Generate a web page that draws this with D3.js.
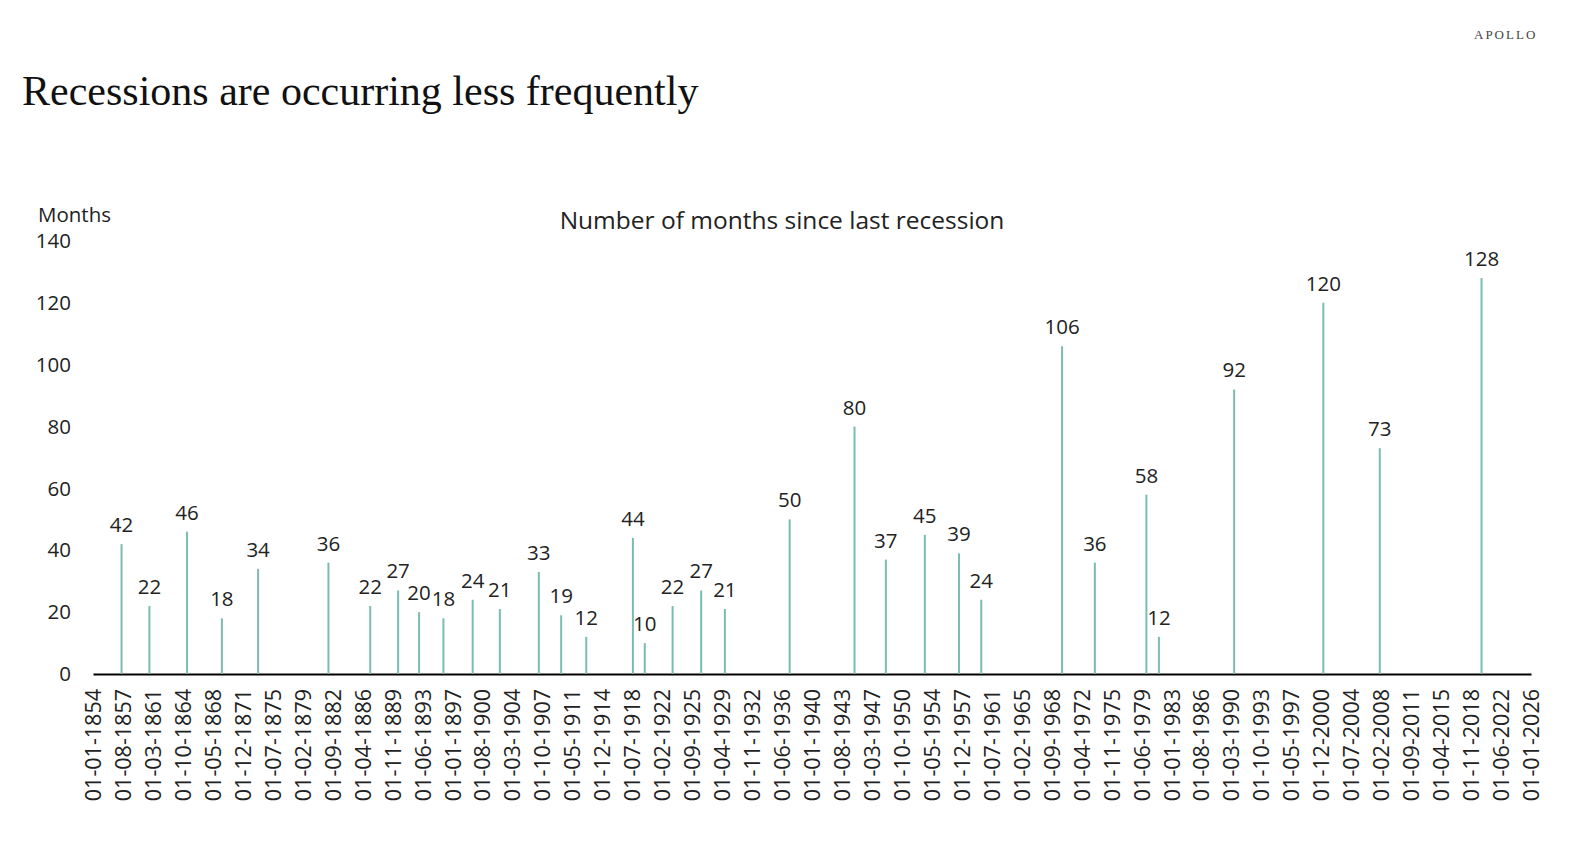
<!DOCTYPE html>
<html lang="en">
<head>
<meta charset="UTF-8">
<title>Recessions are occurring less frequently</title>
<script src="https://d3js.org/d3.v7.min.js"></script>
<style>
  html, body { margin: 0; padding: 0; background: #fff; overflow: hidden; }
  svg { display: block; }
  text { font-family: "Open Sans", "Noto Sans", sans-serif; fill: #222; }
  .serif { font-family: "Liberation Serif", "DejaVu Serif", serif; }
</style>
</head>
<body>
<div id="chart"></div>
<script>
// business cycle peaks and months of expansion leading into them
const peakDates = ["1857-06", "1860-10", "1865-04", "1869-06", "1873-10", "1882-03", "1887-03",
  "1890-07", "1893-01", "1895-12", "1899-06", "1902-09", "1907-05", "1910-01", "1913-01",
  "1918-08", "1920-01", "1923-05", "1926-10", "1929-08", "1937-05", "1945-02", "1948-11",
  "1953-07", "1957-08", "1960-04", "1969-12", "1973-11", "1980-01", "1981-07", "1990-07",
  "2001-03", "2007-12", "2020-02"];
const months = [42, 22, 46, 18, 34, 36, 22, 27, 20, 18, 24, 21, 33, 19, 12, 44, 10, 22, 27, 21,
  50, 80, 37, 45, 39, 24, 106, 36, 58, 12, 92, 120, 73, 128];
const yTicks = [0, 20, 40, 60, 80, 100, 120, 140];
const xStart = "1854-01", xEnd = "2026-01", tickStepMonths = 43;

const W = 1574, H = 864;
const margin = { left: 93, right: 43, top: 241, bottom: 190 };

const parse = d3.timeParse("%Y-%m");
const data = peakDates.map((d, i) => ({ date: parse(d), value: months[i] }));

const svg = d3.select("#chart").append("svg")
  .attr("width", W).attr("height", H);

const x = d3.scaleTime()
  .domain([parse(xStart), parse(xEnd)])
  .range([margin.left, W - margin.right]);
const y = d3.scaleLinear()
  .domain([0, 140])
  .range([H - margin.bottom, margin.top]);

// titles
svg.append("text").attr("class", "serif")
  .attr("x", 22).attr("y", 105)
  .style("font-size", "42px").style("fill", "#111")
  .text("Recessions are occurring less frequently");
svg.append("text").attr("class", "serif")
  .attr("x", 1474).attr("y", 39)
  .style("font-size", "13px").style("letter-spacing", "2px").style("fill", "#444")
  .text("APOLLO");
svg.append("text")
  .attr("x", 782).attr("y", 229).attr("text-anchor", "middle")
  .style("font-size", "24.5px")
  .text("Number of months since last recession");
svg.append("text")
  .attr("x", 38).attr("y", 222)
  .style("font-size", "20.5px")
  .text("Months");

// y axis labels only
svg.append("g").selectAll("text")
  .data(yTicks).join("text")
  .attr("x", 71).attr("y", d => y(d)).attr("dy", "0.35em")
  .attr("text-anchor", "end")
  .style("font-size", "20.5px")
  .text(d => d);

// x axis
const ticks = d3.range(0, 49).map(i => d3.timeMonth.offset(parse(xStart), i * tickStepMonths));
const fmt = d3.timeFormat("%d-%m-%Y");
const xAxis = svg.append("g")
  .attr("transform", `translate(0,${y(0)})`)
  .call(d3.axisBottom(x).tickValues(ticks).tickFormat(fmt).tickSize(0));
xAxis.select(".domain").attr("stroke", "#000").attr("stroke-width", 2);
xAxis.selectAll(".tick text")
  .attr("transform", "rotate(-90)")
  .attr("x", -15).attr("y", 0).attr("dy", "0.35em")
  .attr("text-anchor", "end")
  .style("font-size", "21.5px")
  .style("font-family", "'Open Sans', 'Noto Sans', sans-serif")
  .attr("fill", "#222");

// stems
svg.append("g").selectAll("line")
  .data(data).join("line")
  .attr("x1", d => x(d.date)).attr("x2", d => x(d.date))
  .attr("y1", y(0)).attr("y2", d => y(d.value))
  .attr("stroke", "#7bbcb0").attr("stroke-width", 2);

// value labels
svg.append("g").selectAll("text")
  .data(data).join("text")
  .attr("x", d => x(d.date)).attr("y", d => y(d.value) - 12)
  .attr("text-anchor", "middle")
  .style("font-size", "20.5px")
  .text(d => d.value);
</script>
</body>
</html>
